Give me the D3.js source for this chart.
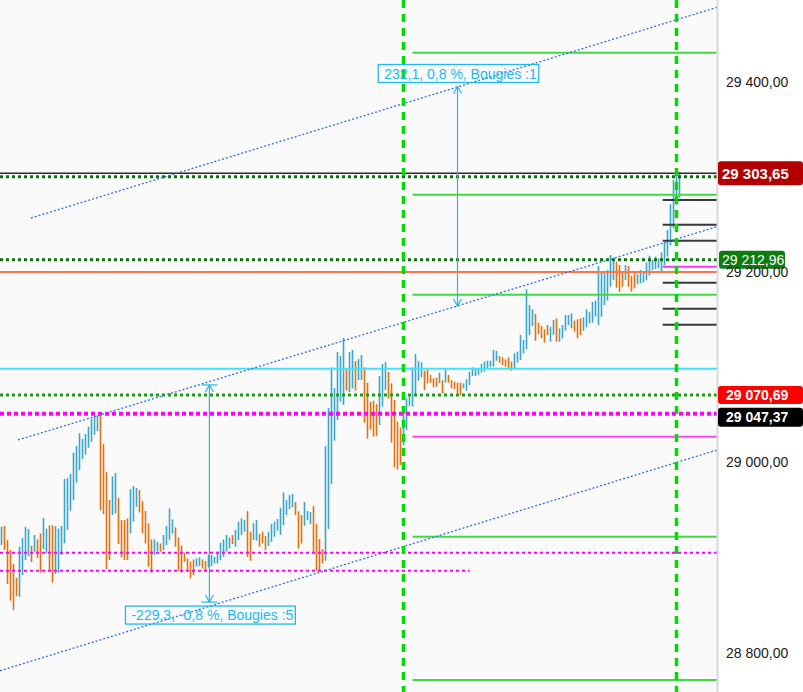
<!DOCTYPE html>
<html lang="fr">
<head>
<meta charset="UTF-8">
<title>Graphique - barres et niveaux</title>
<script src="https://d3js.org/d3.v7.min.js"></script>
<style>
  body { margin: 0; background: #fff; }
  svg { display: block; font-family: "Liberation Sans", Arial, sans-serif; }
</style>
</head>
<body>
<svg width="803" height="692"></svg>
<script>
// plus hauts / plus bas de chaque bougie (une par index)
const highs = [
  28932.4, 28933.1, 28918.4, 28907.9, 28893.2, 28878.4, 28911.4, 28920.5, 28932.4, 28929.9,
  28912.4, 28923.6, 28919.1, 28925.4, 28941.5, 28930.3, 28933.8, 28933.8, 28933.1, 28930.3,
  28933.1, 28982.5, 28983.5, 28987.7, 29010.2, 29017.2, 29030.5, 29024.5, 29029.8, 29037.5,
  29045.9, 29048.7, 29049.4, 29049.4, 29019.3, 28989.8, 28960.4, 28985.0, 28988.8, 28962.5,
  28939.4, 28939.4, 28941.1, 28971.9, 28975.1, 28973.0, 28970.9, 28959.3, 28948.8, 28935.9,
  28919.0, 28919.0, 28916.6, 28914.8, 28923.6, 28933.1, 28951.6, 28940.1, 28931.7, 28921.1,
  28912.4, 28905.0, 28899.1, 28895.6, 28898.0, 28899.1, 28900.1, 28898.0, 28896.3, 28902.6,
  28902.6, 28900.8, 28906.1, 28915.5, 28919.0, 28923.6, 28921.1, 28923.6, 28928.9, 28937.6,
  28941.1, 28939.4, 28948.8, 28927.1, 28935.9, 28939.4, 28924.7, 28927.1, 28922.6, 28927.1,
  28935.2, 28937.6, 28940.4, 28952.0, 28968.4, 28960.4, 28965.6, 28966.7, 28958.3, 28948.5,
  28944.6, 28958.3, 28948.8, 28947.8, 28954.1, 28935.2, 28919.4, 28908.9, 29017.1, 29057.1,
  29099.8, 29078.1, 29115.9, 29111.7, 29130.6, 29098.8, 29115.9, 29118.0, 29106.4, 29108.5,
  29112.8, 29099.8, 29083.7, 29063.7, 29064.8, 29061.3, 29090.7, 29103.3, 29105.4, 29094.9,
  29083.0, 29065.5, 29042.7, 29036.4, 29057.8, 29067.2, 29069.0, 29099.8, 29113.8, 29106.4,
  29105.1, 29096.3, 29097.7, 29091.8, 29088.3, 29089.0, 29094.2, 29086.5, 29097.7, 29091.8,
  29086.5, 29084.8, 29083.7, 29083.7, 29083.0, 29087.2, 29094.9, 29099.8, 29098.8, 29098.8,
  29103.3, 29105.8, 29106.8, 29106.8, 29118.0, 29117.0, 29111.7, 29110.3, 29108.2, 29110.3,
  29105.8, 29114.5, 29116.3, 29133.8, 29128.5, 29181.8, 29165.3, 29160.8, 29155.9, 29146.8,
  29143.3, 29139.8, 29144.3, 29142.5, 29149.6, 29151.3, 29140.8, 29144.3, 29154.8, 29154.8,
  29156.6, 29148.9, 29150.3, 29151.3, 29152.4, 29160.8, 29158.3, 29168.5, 29169.9, 29206.3,
  29199.6, 29199.6, 29202.1, 29217.8, 29214.3, 29210.8, 29207.3, 29201.0, 29207.3, 29206.3,
  29196.1, 29201.0, 29197.5, 29202.1, 29199.6, 29210.1, 29217.1, 29212.6, 29216.1, 29214.3,
  29220.6, 29231.1, 29244.1, 29271.1, 29296.6, 29301.9, 29305.0
];
const lows = [
  28913.1, 28907.9, 28872.1, 28854.6, 28844.8, 28859.5, 28858.8, 28881.6, 28897.4, 28901.6,
  28895.3, 28906.1, 28899.5, 28884.0, 28908.9, 28904.4, 28886.9, 28873.5, 28883.0, 28884.0,
  28902.6, 28914.9, 28928.9, 28949.2, 28960.4, 28978.6, 28992.0, 29003.5, 29008.1, 29015.4,
  29021.4, 29029.1, 29032.9, 28949.9, 28945.7, 28887.9, 28897.4, 28944.6, 28946.4, 28914.2,
  28900.1, 28897.3, 28897.3, 28925.4, 28937.6, 28953.4, 28947.4, 28925.4, 28914.8, 28890.3,
  28884.0, 28902.6, 28906.8, 28906.1, 28907.8, 28913.1, 28918.3, 28925.4, 28911.3, 28886.1,
  28884.0, 28895.6, 28886.1, 28878.1, 28881.6, 28890.3, 28891.0, 28888.6, 28886.1, 28889.6,
  28891.0, 28893.8, 28893.8, 28897.3, 28900.8, 28906.1, 28909.6, 28914.1, 28911.3, 28918.3,
  28923.6, 28927.1, 28900.8, 28896.6, 28918.4, 28917.7, 28911.4, 28914.9, 28907.9, 28912.1,
  28916.6, 28921.9, 28928.2, 28923.6, 28934.1, 28944.6, 28950.9, 28952.7, 28944.6, 28909.3,
  28914.9, 28933.4, 28939.4, 28935.2, 28905.1, 28886.1, 28886.1, 28893.8, 28896.6, 28929.9,
  28977.2, 29022.8, 29044.5, 29063.7, 29060.2, 29075.3, 29073.9, 29077.8, 29075.3, 29086.5,
  29086.5, 29041.7, 29024.9, 29034.6, 29027.0, 29027.7, 29039.2, 29058.5, 29076.0, 29067.2,
  29020.7, 28994.7, 28992.6, 28997.2, 29018.2, 29034.0, 29059.2, 29058.5, 29070.7, 29085.8,
  29089.3, 29076.0, 29083.0, 29083.7, 29078.8, 29079.5, 29083.0, 29072.5, 29083.7, 29083.7,
  29077.8, 29076.7, 29072.5, 29070.7, 29077.8, 29075.3, 29081.2, 29090.7, 29090.7, 29091.8,
  29094.2, 29095.3, 29098.8, 29100.5, 29100.5, 29106.8, 29104.7, 29102.3, 29100.5, 29097.7,
  29096.3, 29098.8, 29104.7, 29107.5, 29114.5, 29118.7, 29133.8, 29143.3, 29127.8, 29134.8,
  29130.3, 29125.7, 29133.8, 29126.8, 29133.8, 29126.8, 29126.8, 29130.3, 29138.3, 29144.3,
  29140.8, 29137.3, 29130.3, 29133.8, 29138.3, 29141.8, 29146.1, 29146.8, 29153.1, 29144.3,
  29153.0, 29165.3, 29170.0, 29184.5, 29191.5, 29183.5, 29179.3, 29184.5, 29191.5, 29184.5,
  29179.3, 29182.8, 29187.0, 29188.0, 29189.1, 29191.5, 29196.1, 29202.1, 29203.1, 29203.8,
  29201.0, 29207.3, 29216.1, 29228.3, 29245.8, 29270.4, 29278.1
];
// u = bougie haussière, d = baissière
const dirs = [
  "uddddduuuu", "dudduudduu", "uuuuuuuuuu", "uuudddduud", "ddduuudddd",
  "duuduuuudd", "ddddduuddu", "uuuuuuuduu", "uudduudddu", "uuuuuuuudd",
  "duuudddduu", "uuuuuduudu", "uddddduuud", "dddduuuuuu", "udddddudud",
  "dddduuuuuu", "uuuuuudddd", "duuuuuuudd", "ddduuduuuu", "uddduuuuuu",
  "uuuuudddud", "dduuuuuuuu", "uuuuuuu"
].join("");

const priceTicks = [28800, 29000, 29200, 29400];
const priceTags = [29303.65, 29212.96, 29070.69, 29047.37];

// niveaux horizontaux
const lastPriceLine = 29303.65;
const darkGreenDotted = [29300.1, 29212.96];
const greenDotted = [29070.69];
const magentaThickDotted = [29051.0];
const magentaThinDotted = [28905.0];
const magentaThinDottedShort = [28886.1];
const magentaShortEnd = 156;
const orangeLevel = [29200.0];
const cyanLevel = [29098.4];
const pivotStart = 137;
const pivotLevels = [29430.4, 29281.2, 29176.1, 28921.9, 28771.3];
const magentaPivot = [29026.9];
const recentStart = 220.4;
const recentMagenta = [29205.6];
const recentBlack = [29275.7, 29249.7, 29232.9, 29188.8, 29161.4, 29144.6];
const sessionMarks = [134, 225];

// canal (index, prix)
const channel = [
  [[9.8, 29256.7], [238.5, 29478.1]],
  [[5.5, 29023.5], [238.5, 29247.6]],
  [[-0.5, 28781.0], [238.5, 29013.0]]
];

// mesures
const measureIdx = [152, 69.3];
const measureFrom = [29164.3, 29081.3];
const measureTo = [29394.9, 28853.2];
const measureText = ["232,1, 0,8 %, Bougies :1", "-229,3, -0,8 %, Bougies :5"];

const width = 803, height = 692, plotW = 717;

const svg = d3.select("svg");
const fr = d3.formatLocale({decimal: ",", thousands: " ", grouping: [3], currency: ["", " €"]});
const fmt = fr.format(",.2f");

const x = d3.scaleLinear().domain([-0.5, 238.5]).range([0, plotW]);
const y = d3.scaleLinear().domain([28758.7, 29485.8]).range([height, 0]);

svg.append("rect").attr("width", width).attr("height", height).attr("fill", "#fff");
svg.append("rect").attr("width", plotW).attr("height", height).attr("fill", "#fafafa");

svg.append("clipPath").attr("id", "plot")
  .append("rect").attr("width", plotW).attr("height", height);
const g = svg.append("g").attr("clip-path", "url(#plot)");

function hline(vals, color, w, dash, from) {
  g.selectAll(null).data(vals).enter().append("line")
    .attr("x1", from === undefined ? 0 : x(from))
    .attr("x2", plotW)
    .attr("y1", d => y(d)).attr("y2", d => y(d))
    .attr("stroke", color).attr("stroke-width", w)
    .attr("stroke-dasharray", dash || null);
}

// bougies
const bars = d3.range(highs.length);
g.selectAll("line.bar").data(bars).enter().append("line")
  .attr("class", "bar")
  .attr("x1", i => x(i)).attr("x2", i => x(i))
  .attr("y1", i => y(highs[i])).attr("y2", i => y(lows[i]))
  .attr("stroke", i => dirs[i] === "u" ? "#3aa7c8" : "#e0720f")
  .attr("stroke-width", 1.6);

// niveaux
hline(orangeLevel, "#ff7448", 2);
hline(cyanLevel, "#42e2f8", 2);
hline(magentaThinDotted, "#ff00ff", 2, "3,3");
g.selectAll(null).data(magentaThinDottedShort).enter().append("line")
  .attr("x1", 0).attr("x2", x(magentaShortEnd))
  .attr("y1", d => y(d)).attr("y2", d => y(d))
  .attr("stroke", "#ff00ff").attr("stroke-width", 2).attr("stroke-dasharray", "3,3");
hline(pivotLevels, "#3fdc3f", 2, null, pivotStart);
hline(magentaPivot, "#ff44ff", 2, null, pivotStart);
hline(recentMagenta, "#ff33ff", 2, null, recentStart);
hline(recentBlack, "#383838", 2, null, recentStart);
hline(magentaThickDotted, "#ff00ff", 4, "4,3");
hline(greenDotted, "#1c9e1c", 3, "3,3");
hline(darkGreenDotted, "#0d6e0d", 3, "3,3");
hline([lastPriceLine], "#2a2a2a", 1.5);

// canal
g.selectAll("line.chan").data(channel).enter().append("line")
  .attr("class", "chan")
  .attr("x1", d => x(d[0][0])).attr("y1", d => y(d[0][1]))
  .attr("x2", d => x(d[1][0])).attr("y2", d => y(d[1][1]))
  .attr("stroke", "#2f6fe6").attr("stroke-width", 1.3)
  .attr("stroke-dasharray", "2,2");

// séparateurs de séance
g.selectAll("line.sess").data(sessionMarks).enter().append("line")
  .attr("class", "sess")
  .attr("x1", d => x(d)).attr("x2", d => x(d))
  .attr("y1", 0).attr("y2", height)
  .attr("stroke", "#00dc00").attr("stroke-width", 3.5)
  .attr("stroke-dasharray", "8,6");

// mesures
const mcol = "#22b8ef";
measureIdx.forEach((idx, k) => {
  const mx = x(idx);
  const yTop = y(Math.max(measureFrom[k], measureTo[k]));
  const yBot = y(Math.min(measureFrom[k], measureTo[k]));
  const up = measureTo[k] > measureFrom[k];
  const m = svg.append("g");
  m.append("line").attr("x1", mx).attr("x2", mx).attr("y1", yTop).attr("y2", yBot)
    .attr("stroke", mcol).attr("stroke-width", 1.2);
  m.append("path").attr("d", `M${mx - 4},${yTop + 7}L${mx},${yTop}L${mx + 4},${yTop + 7}`)
    .attr("fill", "none").attr("stroke", mcol).attr("stroke-width", 1.2);
  m.append("path").attr("d", `M${mx - 4},${yBot - 7}L${mx},${yBot}L${mx + 4},${yBot - 7}`)
    .attr("fill", "none").attr("stroke", mcol).attr("stroke-width", 1.2);
  if (!up) {
    [yTop, yBot].forEach(yy => m.append("line")
      .attr("x1", mx - 8).attr("x2", mx + 8).attr("y1", yy).attr("y2", yy)
      .attr("stroke", mcol).attr("stroke-width", 1.2));
  }
  const t = m.append("text")
    .attr("font-size", 14).attr("fill", mcol)
    .text(measureText[k]);
  const tw = t.node().getComputedTextLength();
  const bx = mx + 1 - (tw + 8) / 2;
  const by = up ? yTop - 22 : yBot + 4;
  t.attr("x", bx + 6).attr("y", by + 14);
  m.insert("rect", "text").attr("x", bx).attr("y", by)
    .attr("width", tw + 8).attr("height", 18)
    .attr("fill", "none").attr("stroke", mcol).attr("stroke-width", 1.3);
});

// axe des prix
svg.append("line").attr("x1", plotW + 0.5).attr("x2", plotW + 0.5)
  .attr("y1", 0).attr("y2", height)
  .attr("stroke", "#d9d9d9").attr("stroke-width", 2);

const tagStyle = [
  {fill: "#b20000", x: 718, w: 85, h: 24, weight: "bold", size: 15, tx: 722},
  {fill: "#0e7c0e", x: 719, w: 66, h: 18, weight: "normal", size: 14, tx: 722},
  {fill: "#ff0000", x: 718, w: 85, h: 18, weight: "bold", size: 14, tx: 726},
  {fill: "#000000", x: 718, w: 85, h: 19, weight: "bold", size: 14, tx: 726}
];
let prevBottom = -Infinity;
priceTags.forEach((v, k) => {
  const s = tagStyle[k];
  let cy = y(v);
  if (cy - s.h / 2 < prevBottom + 2) cy = prevBottom + 2 + s.h / 2;
  prevBottom = cy + s.h / 2;
  svg.append("rect").attr("x", s.x).attr("y", cy - s.h / 2)
    .attr("width", s.w).attr("height", s.h).attr("rx", 3)
    .attr("fill", s.fill);
  svg.append("text").attr("x", s.tx).attr("y", cy).attr("dy", "0.36em")
    .attr("fill", "#fff").attr("font-size", s.size).attr("font-weight", s.weight)
    .text(fmt(v));
});

const axis = svg.append("g")
  .attr("transform", `translate(${plotW + 1},0)`)
  .call(d3.axisRight(y).tickValues(priceTicks).tickSize(0).tickPadding(8).tickFormat(fmt));
axis.select(".domain").remove();
axis.selectAll("text")
  .attr("font-size", 14).attr("font-family", "\"Liberation Sans\", Arial, sans-serif")
  .attr("fill", "#1a1a1a");
</script>
</body>
</html>
